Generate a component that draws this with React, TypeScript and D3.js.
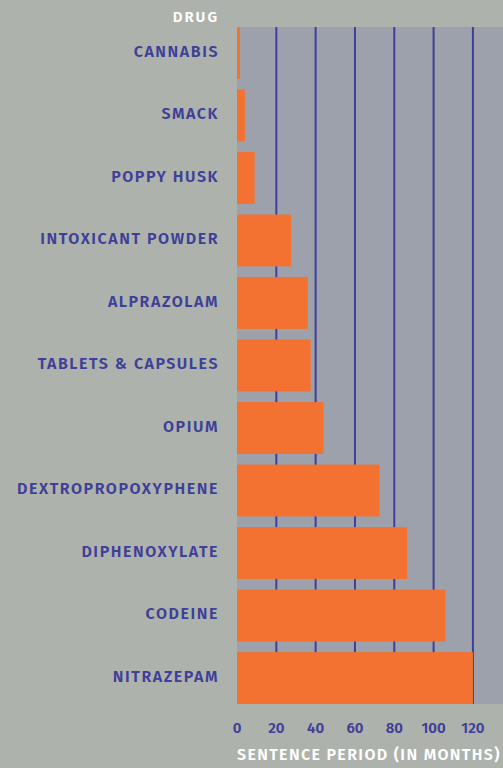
// @ts-nocheck
import { useRef, useEffect } from "react";
import * as d3 from "d3";

const drugs = [
  "CANNABIS",
  "SMACK",
  "POPPY HUSK",
  "INTOXICANT POWDER",
  "ALPRAZOLAM",
  "TABLETS & CAPSULES",
  "OPIUM",
  "DEXTROPROPOXYPHENE",
  "DIPHENOXYLATE",
  "CODEINE",
  "NITRAZEPAM",
];
const months = [1.5, 4, 9, 27.5, 36, 37.5, 44, 72.5, 86.5, 106, 120];
const ticks = [0, 20, 40, 60, 80, 100, 120];

const W = 503;
const H = 768;

const SentenceChart = () => {
  const svgRef = useRef();

  useEffect(() => {
    const svg = d3.select(svgRef.current);
    svg.selectAll("*").remove();

    const margin = { top: 27, right: 0, bottom: 64, left: 237 };
    const font = "'Fira Sans', 'Open Sans', sans-serif";
    const blue = "#3e3f98";

    const x = d3
      .scaleLinear()
      .domain([0, 135.3])
      .range([margin.left, W]);

    const y = d3
      .scaleBand()
      .domain(drugs)
      .range([margin.top, H - margin.bottom])
      .paddingInner(0.17)
      .paddingOuter(0);

    svg.attr("width", W).attr("height", H).style("display", "block");

    svg.append("rect").attr("width", W).attr("height", H).attr("fill", "#adb2ac");

    // plot area
    svg
      .append("rect")
      .attr("x", margin.left)
      .attr("y", margin.top)
      .attr("width", W - margin.left)
      .attr("height", y.range()[1] - margin.top)
      .attr("fill", "#9da1ac");

    // grid lines
    svg
      .append("g")
      .selectAll("line")
      .data(ticks.filter((t) => t > 0))
      .enter()
      .append("line")
      .attr("x1", (d) => x(d))
      .attr("x2", (d) => x(d))
      .attr("y1", margin.top)
      .attr("y2", y.range()[1])
      .attr("stroke", blue)
      .attr("stroke-width", 2);

    // bars
    svg
      .append("g")
      .selectAll("rect")
      .data(drugs)
      .enter()
      .append("rect")
      .attr("x", x(0))
      .attr("y", (d) => y(d))
      .attr("width", (d, i) => x(months[i]) - x(0))
      .attr("height", y.bandwidth())
      .attr("fill", "#f37232");

    // category labels
    svg
      .append("g")
      .selectAll("text")
      .data(drugs)
      .enter()
      .append("text")
      .attr("x", 219)
      .attr("y", (d) => y(d) + y.bandwidth() / 2 - 2)
      .attr("dy", "0.35em")
      .attr("text-anchor", "end")
      .attr("font-family", font)
      .attr("font-weight", 600)
      .attr("font-size", 16)
      .attr("letter-spacing", 1.55)
      .attr("fill", blue)
      .text((d) => d);

    svg
      .append("text")
      .attr("x", 219)
      .attr("y", 22)
      .attr("text-anchor", "end")
      .attr("font-family", font)
      .attr("font-weight", 600)
      .attr("font-size", 15)
      .attr("letter-spacing", 2)
      .attr("fill", "#ffffff")
      .text("DRUG");

    // x tick labels
    svg
      .append("g")
      .selectAll("text")
      .data(ticks)
      .enter()
      .append("text")
      .attr("x", (d) => x(d))
      .attr("y", 733)
      .attr("text-anchor", "middle")
      .attr("font-family", font)
      .attr("font-weight", 600)
      .attr("font-size", 15)
      .attr("fill", blue)
      .text((d) => d);

    svg
      .append("text")
      .attr("x", margin.left)
      .attr("y", 760)
      .attr("font-family", font)
      .attr("font-weight", 600)
      .attr("font-size", 16)
      .attr("letter-spacing", 1.35)
      .attr("fill", "#ffffff")
      .text("SENTENCE PERIOD (IN MONTHS)");
  }, []);

  return <svg ref={svgRef}></svg>;
};

export default function App() {
  return (
    <div style={{ position: "fixed", left: 0, top: 0 }}>
      <SentenceChart />
    </div>
  );
}
